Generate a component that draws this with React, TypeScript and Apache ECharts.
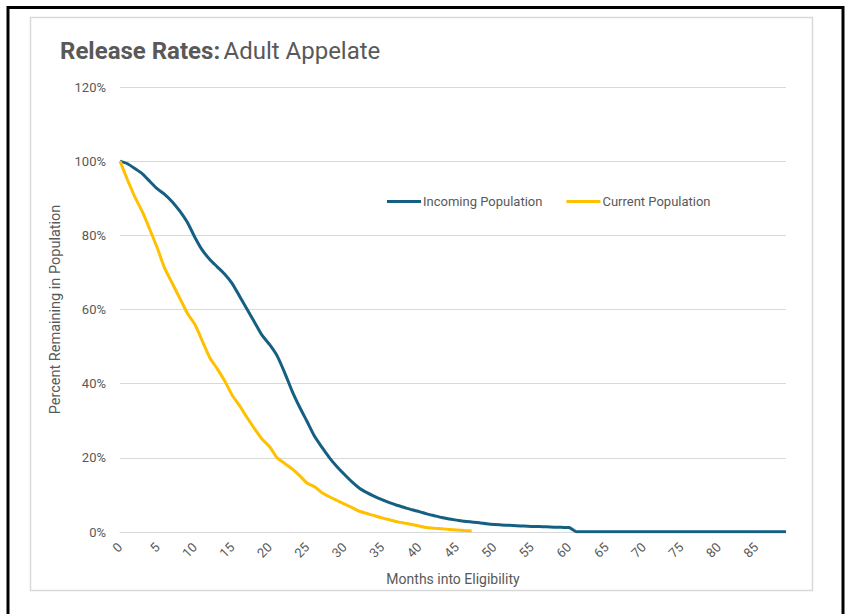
import React, { useEffect, useRef } from "react";
import * as echarts from "echarts";

const months: string[] = Array.from({ length: 90 }, (_, i) => String(i));

const incomingPopulation: number[] = [
  100, 99.3, 98, 96.6, 94.5, 92.5, 91, 89, 86.5, 83.5,
  79.5, 76, 73.5, 71.5, 69.5, 67, 63.5, 60, 56.5, 53,
  50.5, 47.5, 43, 38, 33.7, 29.8, 25.8, 22.8, 20, 17.6,
  15.5, 13.5, 11.8, 10.6, 9.6, 8.7, 7.9, 7.2, 6.6, 6,
  5.5, 4.9, 4.4, 3.9, 3.5, 3.2, 2.9, 2.7, 2.5, 2.2,
  2.0, 1.9, 1.8, 1.7, 1.6, 1.5, 1.45, 1.4, 1.3, 1.25,
  1.2, 0.1, 0.1, 0.1, 0.1, 0.1, 0.1, 0.1, 0.1, 0.1,
  0.1, 0.1, 0.05, 0.05, 0.05, 0.05, 0.05, 0.05, 0.05, 0.05,
  0.05, 0.05, 0.05, 0.05, 0.05, 0.05, 0.05, 0.05, 0.05, 0.05,
];

const currentPopulation: number[] = [
  100, 95, 90.3, 86.3, 81.5, 76.5, 71, 67, 63, 59,
  56, 51.5, 47, 44, 40.7, 36.9, 34, 30.8, 27.8, 25,
  23, 20, 18.5, 17, 15.2, 13.2, 12.2, 10.6, 9.5, 8.5,
  7.5, 6.6, 5.6, 5, 4.4, 3.8, 3.3, 2.8, 2.4, 2,
  1.6, 1.2, 1.0, 0.85, 0.7, 0.55, 0.4, 0.3,
];

const yTicks = [0, 20, 40, 60, 80, 100, 120];

const FONT = "Roboto, 'Noto Sans', sans-serif";
const GREY = "#595959";

export default function App() {
  const ref = useRef<HTMLDivElement>(null);

  useEffect(() => {
    if (!ref.current) return;
    const chart = echarts.init(ref.current, null, { renderer: "svg" });
    chart.setOption({
      animation: false,
      backgroundColor: "#ffffff",
      textStyle: { fontFamily: FONT },
      graphic: [
        {
          type: "rect",
          shape: { x: 8, y: 7.5, width: 835, height: 640 },
          style: { fill: "none", stroke: "#000000", lineWidth: 3 },
          silent: true,
        },
        {
          type: "rect",
          shape: { x: 30.5, y: 17.5, width: 782, height: 573 },
          style: { fill: "none", stroke: "#d9d9d9", lineWidth: 1.5 },
          silent: true,
        },
        {
          type: "text",
          left: 60,
          top: 39,
          style: {
            text: "{b|Release Rates:} {n|Adult Appelate}",
            rich: {
              b: { fontFamily: FONT, fontSize: 24, fontWeight: "bold", fill: GREY },
              n: { fontFamily: FONT, fontSize: 24, fontWeight: "normal", fill: GREY },
            },
          },
        },
      ],
      legend: {
        left: 382,
        top: 190,
        icon: "rect",
        itemWidth: 34,
        itemHeight: 3,
        itemGap: 24,
        textStyle: { color: GREY, fontSize: 13, fontFamily: FONT, padding: [0, 0, 0, -3] },
        data: ["Incoming Population", "Current Population"],
      },
      grid: { left: 120, right: 62, top: 87, bottom: 82 },
      xAxis: {
        type: "category",
        data: months,
        boundaryGap: false,
        name: "Months into Eligibility",
        nameLocation: "middle",
        nameGap: 40,
        nameTextStyle: { color: GREY, fontSize: 14, fontFamily: FONT },
        axisLine: { show: true, lineStyle: { color: "#d9d9d9", width: 1 } },
        axisTick: { show: false },
        axisLabel: {
          interval: 4,
          rotate: 45,
          margin: 13,
          color: GREY,
          fontSize: 13,
          fontFamily: FONT,
        },
      },
      yAxis: {
        type: "value",
        min: 0,
        max: 120,
        interval: 20,
        name: "Percent Remaining in Population",
        nameLocation: "middle",
        nameGap: 57,
        nameTextStyle: { color: GREY, fontSize: 14.5, fontFamily: FONT },
        axisLine: { show: false },
        axisTick: { show: false },
        splitLine: { lineStyle: { color: "#d9d9d9", width: 1 } },
        axisLabel: {
          margin: 14,
          color: GREY,
          fontSize: 13,
          fontFamily: FONT,
          formatter: (v: number) => (yTicks.includes(v) ? `${v}%` : ""),
        },
      },
      series: [
        {
          name: "Incoming Population",
          type: "line",
          data: incomingPopulation,
          showSymbol: false,
          symbol: "none",
          smooth: 0.2,
          lineStyle: { color: "#156082", width: 3 },
          itemStyle: { color: "#156082" },
        },
        {
          name: "Current Population",
          type: "line",
          data: currentPopulation,
          showSymbol: false,
          symbol: "none",
          smooth: 0.2,
          lineStyle: { color: "#FFC000", width: 3 },
          itemStyle: { color: "#FFC000" },
        },
      ],
    });
    return () => chart.dispose();
  }, []);

  return (
    <div
      ref={ref}
      style={{ position: "fixed", left: 0, top: 0, width: 848, height: 614 }}
    />
  );
}
